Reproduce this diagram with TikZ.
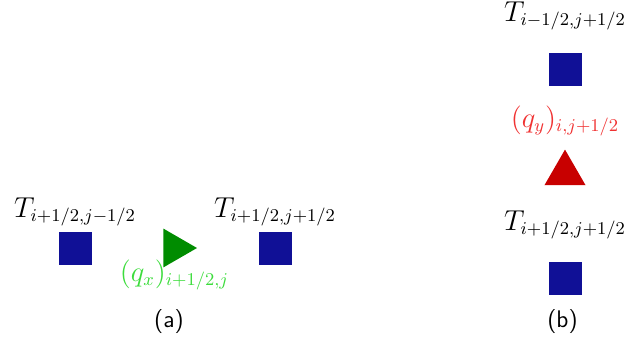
\documentclass[tikz,border=0pt]{standalone}
\usetikzlibrary{shapes.geometric}
\definecolor{cellblue}{RGB}{16,16,150}
\definecolor{fluxgreen}{RGB}{0,140,0}
\definecolor{labelgreen}{RGB}{60,220,60}
\definecolor{fluxred}{RGB}{200,0,0}
\definecolor{labelred}{RGB}{240,50,50}
\begin{document}
\begin{tikzpicture}[x=0.5pt,y=-0.5pt,
  every node/.style={font=\fontsize{13.5}{16}\selectfont, inner sep=0pt, outer sep=0pt},
  cell/.style={fill=cellblue, minimum size=16.5pt},
  flux/.style={regular polygon, regular polygon sides=3},
  lbl/.style={anchor=base},
  panel/.style={anchor=base, font=\fontsize{12}{14}\selectfont\sffamily}]
\useasboundingbox (0,0) rectangle (627,338);
% (a) horizontal flux
\node[cell] (west) at (75,248) {};
\node[cell] (east) at (275,248) {};
\node[flux, fill=fluxgreen, minimum size=22.5pt, shape border rotate=-90] (qx) at (174.5,248) {};
\node[lbl] (Twest) at (75,217) {$T_{i+1/2,j-1/2}$};
\node[lbl] (Teast) at (275,217) {$T_{i+1/2,j+1/2}$};
\node[lbl, text=labelgreen] (qxlbl) at (174.5,281) {$(q_x)_{i+1/2,j}$};
\node[panel] (capa) at (169,327) {(a)};
% (b) vertical flux
\node[cell] (north) at (565,69.5) {};
\node[cell] (south) at (565,278) {};
\node[flux, fill=fluxred, minimum size=23.7pt] (qy) at (565,173.3) {};
\node[lbl] (Tnorth) at (565,21) {$T_{i-1/2,j+1/2}$};
\node[lbl] (Tsouth) at (565,230) {$T_{i+1/2,j+1/2}$};
\node[lbl, text=labelred] (qylbl) at (565,127) {$(q_y)_{i,j+1/2}$};
\node[panel] (capb) at (562.5,327) {(b)};
\end{tikzpicture}
\end{document}
